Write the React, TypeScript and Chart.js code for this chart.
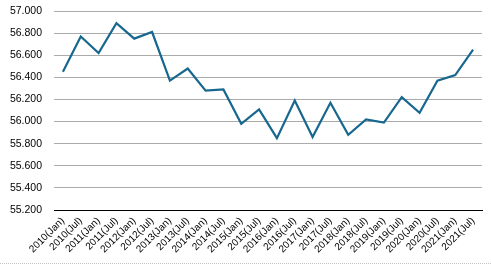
import React, { useEffect, useRef } from "react";
import { Chart, registerables } from "chart.js";

Chart.register(...registerables);

const categories = [
  "2010(Jan)", "2010(Jul)", "2011(Jan)", "2011(Jul)", "2012(Jan)", "2012(Jul)",
  "2013(Jan)", "2013(Jul)", "2014(Jan)", "2014(Jul)", "2015(Jan)", "2015(Jul)",
  "2016(Jan)", "2016(Jul)", "2017(Jan)", "2017(Jul)", "2018(Jan)", "2018(Jul)",
  "2019(Jan)", "2019(Jul)", "2020(Jan)", "2020(Jul)", "2021(Jan)", "2021(Jul)",
];

const seriesValues = [
  56.45, 56.77, 56.62, 56.89, 56.75, 56.81,
  56.37, 56.48, 56.28, 56.29, 55.98, 56.11,
  55.85, 56.19, 55.86, 56.17, 55.88, 56.02,
  55.99, 56.22, 56.08, 56.37, 56.42, 56.65,
];

const yMin = 55.2;
const yMax = 57.0;
const yStep = 0.2;

export default function App() {
  const ref = useRef<HTMLCanvasElement | null>(null);

  useEffect(() => {
    document.body.style.margin = "0";
    if (!ref.current) return;
    const font = { family: "'Liberation Sans', Arial, sans-serif", size: 10.5 };
    const chart = new Chart(ref.current, {
      type: "line",
      data: {
        labels: categories,
        datasets: [
          {
            data: seriesValues,
            borderColor: "#17678f",
            borderWidth: 2.2,
            pointRadius: 0,
            tension: 0,
            fill: false,
          },
        ],
      },
      options: {
        animation: false,
        responsive: false,
        maintainAspectRatio: false,
        layout: { padding: { top: 11, right: 9, left: 0, bottom: 0 } },
        plugins: { legend: { display: false }, tooltip: { enabled: false } },
        scales: {
          x: {
            offset: true,
            grid: { display: false, drawTicks: false },
            border: { display: true, color: "#000000", width: 1 },
            ticks: {
              color: "#000000",
              font: { ...font, size: 10 },
              minRotation: 45,
              maxRotation: 45,
              autoSkip: false,
              padding: 5,
            },
            afterFit: (s: any) => {
              s.height = 53;
            },
          },
          y: {
            min: yMin,
            max: yMax,
            grid: { color: "#ababab", lineWidth: 1, drawTicks: false },
            border: { display: false },
            ticks: {
              stepSize: yStep,
              color: "#000000",
              font,
              padding: 12,
              callback: (v: any) => Number(v).toFixed(3),
            },
            afterFit: (s: any) => {
              s.width = 54;
              s.paddingTop = 6;
              s.paddingBottom = 6;
            },
          },
        },
      },
    });
    return () => chart.destroy();
  }, []);

  return (
    <div
      style={{
        position: "absolute",
        left: 0,
        top: 0,
        width: 491,
        height: 263,
        borderBottom: "1px dotted #c4c4c4",
        background: "#ffffff",
      }}
    >
      <canvas ref={ref} width={491} height={263} style={{ display: "block" }} />
    </div>
  );
}
